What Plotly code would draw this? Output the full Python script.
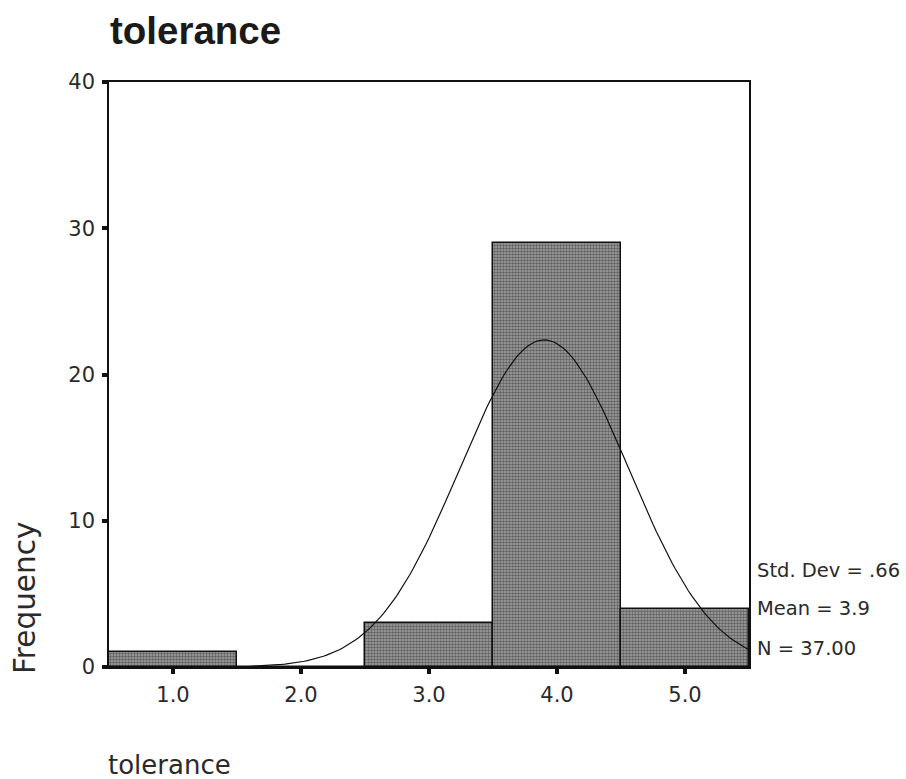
import math
import plotly.graph_objects as go

# Data
bin_centers = [1.0, 2.0, 3.0, 4.0, 5.0]
frequencies = [1, 0, 3, 29, 4]
tick_labels = ["1.0", "2.0", "3.0", "4.0", "5.0"]
y_ticks = [0, 10, 20, 30, 40]

# Summary statistics printed on the chart (define the fitted normal curve)
std_dev = 0.66
mean = 3.9
n_obs = 37
bin_width = 1.0

curve_x = [0.5 + i * 0.025 for i in range(201)]
curve_y = [n_obs * bin_width / (std_dev * math.sqrt(2 * math.pi))
           * math.exp(-0.5 * ((x - mean) / std_dev) ** 2) for x in curve_x]

FONT = "DejaVu Sans, sans-serif"
TITLE_FONT = "Liberation Sans, Arial, sans-serif"
TXT = "#2a2a2a"

fig = go.Figure()
fig.add_trace(go.Bar(
    x=bin_centers, y=frequencies, width=bin_width,
    marker=dict(color="#7a7a7a",
                line=dict(color="#111111", width=1.5),
                pattern=dict(shape=".", fgcolor="#1e1e1e", bgcolor="#a4a4a4",
                             size=3, solidity=0.55)),
    showlegend=False, hoverinfo="skip",
))
fig.add_trace(go.Scatter(
    x=curve_x, y=curve_y, mode="lines",
    line=dict(color="#111111", width=1.2),
    showlegend=False, hoverinfo="skip",
))

fig.update_layout(
    width=906, height=779,
    margin=dict(l=109, r=157, t=82, b=112),
    paper_bgcolor="white", plot_bgcolor="white",
    font=dict(family=FONT, size=21, color=TXT),
    bargap=0,
    xaxis=dict(range=[0.5, 5.5], tickvals=bin_centers, ticktext=tick_labels,
               ticks="outside", ticklen=5, tickwidth=4, tickcolor="#111111",
               showline=True, linecolor="#111111", linewidth=1.5, mirror=True,
               showgrid=False, zeroline=False, ticklabelstandoff=3,
               tickfont=dict(family=FONT, size=21, color=TXT)),
    yaxis=dict(range=[0, 40], tickvals=y_ticks,
               ticks="outside", ticklen=5, tickwidth=4, tickcolor="#111111",
               showline=True, linecolor="#111111", linewidth=1.5, mirror=True,
               showgrid=False, zeroline=False, ticklabelstandoff=3,
               tickfont=dict(family=FONT, size=21, color=TXT)),
    annotations=[
        dict(text="<b>tolerance</b>", xref="paper", yref="paper",
             x=0, y=1.0, xshift=-1, yshift=52, xanchor="left", yanchor="middle",
             showarrow=False, font=dict(family=TITLE_FONT, size=38.5, color="#1a1a1a")),
        dict(text="Frequency", xref="paper", yref="paper",
             x=0, xshift=-84, y=(667 - 598) / 585, textangle=-90,
             xanchor="center", yanchor="middle", showarrow=False,
             font=dict(family=FONT, size=29.5, color=TXT)),
        dict(text="tolerance", xref="paper", yref="paper",
             x=0, y=0, xshift=-3, yshift=-98, xanchor="left", yanchor="middle",
             showarrow=False, font=dict(family=FONT, size=26, color=TXT)),
        dict(text=f"Std. Dev = {str(std_dev).lstrip('0')}", xref="paper", yref="paper",
             x=1, xshift=6, y=(667 - 570) / 585, xanchor="left", yanchor="middle",
             showarrow=False, font=dict(family=FONT, size=19.5, color=TXT)),
        dict(text=f"Mean = {mean}", xref="paper", yref="paper",
             x=1, xshift=6, y=(667 - 608) / 585, xanchor="left", yanchor="middle",
             showarrow=False, font=dict(family=FONT, size=19.5, color=TXT)),
        dict(text=f"N = {n_obs:.2f}", xref="paper", yref="paper",
             x=1, xshift=6, y=(667 - 648) / 585, xanchor="left", yanchor="middle",
             showarrow=False, font=dict(family=FONT, size=19.5, color=TXT)),
    ],
)

fig.write_html("out.html")
